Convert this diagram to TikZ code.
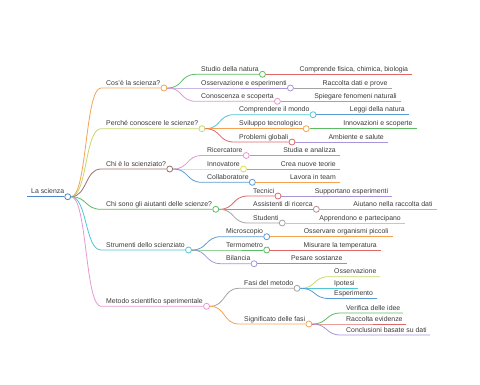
\documentclass[tikz,border=0pt]{standalone}
\usepackage{fontspec}
\setmainfont{Liberation Sans}
\definecolor{cOrange}{HTML}{F4A352}
\definecolor{cOlive}{HTML}{C8D66A}
\definecolor{cBrown}{HTML}{9C6F6F}
\definecolor{cGreen}{HTML}{5DBB63}
\definecolor{cCyan}{HTML}{4FC6D8}
\definecolor{cPink}{HTML}{E597D2}
\definecolor{cPurple}{HTML}{A994D9}
\definecolor{cRed}{HTML}{E06666}
\definecolor{cBlue}{HTML}{5B9BD5}
\definecolor{cGray}{HTML}{A4A4A4}
\definecolor{cYellow}{HTML}{DCDC5A}
\definecolor{cMauve}{HTML}{B88A8A}
\definecolor{cRoot}{HTML}{4A86C8}
\definecolor{txtGray}{HTML}{3A3A3A}
\tikzset{
  lbl/.style={font=\fontsize{6.9}{8}\selectfont, text=txtGray, inner sep=0pt},
  dot/.style={circle, draw=#1, fill=white, line width=0.8pt, inner sep=0pt, minimum size=6pt},
  link/.style={line width=0.8pt},
}
\begin{document}
\begin{tikzpicture}[x=1pt, y=-1pt]
    \useasboundingbox (0,0) rectangle (480,384);

    % radice
    \coordinate (rootS) at (27,196.7);
    \node[lbl, anchor=base west] (rootT) at (31,193.9) {La scienza};
    \node[dot=cRoot] (root) at (67.7,196.7) {};
    \draw[link, cRoot] (rootS) -- (root);

    % rami e sottorami: padre/nome/y/x testo/colore/testo
    \foreach \up/\nm/\y/\xt/\col/\txt in {
        root/cosa/88/106/cOrange/{Cos'è la scienza?},
        root/perche/128.7/106/cOlive/{Perché conoscere le scienze?},
        root/chie/169/106/cBrown/{Chi è lo scienziato?},
        root/aiut/209.3/106/cGreen/{Chi sono gli aiutanti delle scienze?},
        root/strum/250/106/cCyan/{Strumenti dello scienziato},
        root/metodo/306.3/106/cPink/{Metodo scientifico sperimentale},
        cosa/studio/74.3/201/cGreen/{Studio della natura},
        cosa/osserv/88/201/cPurple/{Osservazione e esperimenti},
        cosa/conosc/101.3/201/cPink/{Conoscenza e scoperta},
        perche/compr/114.7/239/cCyan/{Comprendere il mondo},
        perche/svil/128.7/239/cOrange/{Sviluppo tecnologico},
        perche/probl/142/239/cRed/{Problemi globali},
        chie/ricerc/155.5/207/cPink/{Ricercatore},
        chie/innov/169/207/cYellow/{Innovatore},
        chie/collab/182.3/207/cBlue/{Collaboratore},
        aiut/tecn/196/253/cRed/{Tecnici},
        aiut/assist/209.3/253/cMauve/{Assistenti di ricerca},
        aiut/stud/223/253/cGray/{Studenti},
        strum/micro/236.7/226/cBlue/{Microscopio},
        strum/termo/250/226/cGreen/{Termometro},
        strum/bilan/263.7/226/cPurple/{Bilancia},
        metodo/fasi/288.3/244/cGray/{Fasi del metodo},
        metodo/signif/324/244/cOrange/{Significato delle fasi}}{
        \coordinate (\nm-s) at (\xt-5,\y);
        \node[lbl, anchor=base west] (\nm-t) at (\xt,\y-2.8) {\txt};
        \node[dot=\col, xshift=3.5pt] (\nm) at (\nm-t.east |- \nm-s) {};
        \draw[link, \col] (\up.east) .. controls +(16,0) and +(-16,0) .. (\nm-s) -- (\nm);
    }

    % foglie allineate a destra
    \foreach \up/\nm/\y/\xe/\col/\txt in {
        studio/f1/74.3/412.3/cRed/{Comprende fisica, chimica, biologia},
        osserv/f2/88/391.7/cGray/{Raccolta dati e prove},
        conosc/f3/101.3/401/cGray/{Spiegare fenomeni naturali},
        compr/f4/114.7/409/cBlue/{Leggi della natura},
        svil/f5/128.7/416.7/cGreen/{Innovazioni e scoperte},
        probl/f6/142/388/cPurple/{Ambiente e salute},
        ricerc/f7/155.5/340/cGray/{Studia e analizza},
        innov/f8/169/340/cCyan/{Crea nuove teorie},
        collab/f9/182.3/340/cOrange/{Lavora in team},
        tecn/f10/196/392.3/cPurple/{Supportano esperimenti},
        assist/f11/209.3/436.7/cPink/{Aiutano nella raccolta dati},
        stud/f12/223/405/cOlive/{Apprendono e partecipano},
        micro/f13/236.7/392.7/cOrange/{Osservare organismi piccoli},
        termo/f14/250/381/cRed/{Misurare la temperatura},
        bilan/f15/263.7/346.7/cRed!70!cPink/{Pesare sostanze}}{
        \coordinate (\nm) at (\xe,\y);
        \node[lbl, anchor=base east] (\nm-t) at (\xe-4,\y-2.8) {\txt};
        \draw[link, \col] (\up) -- (\nm);
    }

    % foglie del metodo
    \foreach \up/\nm/\y/\xt/\xe/\col/\txt in {
        fasi/m1/276.7/334/380/cOlive/{Osservazione},
        fasi/m2/288.3/334/358/cCyan/{Ipotesi},
        fasi/m3/298.5/334/377/cBlue/{Esperimento},
        signif/m4/313/346/403/cGreen/{Verifica delle idee},
        signif/m5/324/346/406/cRed/{Raccolta evidenze},
        signif/m6/335/346/430/cPurple/{Conclusioni basate su dati}}{
        \coordinate (\nm-s) at (\xt-5,\y);
        \coordinate (\nm) at (\xe,\y);
        \node[lbl, anchor=base west] (\nm-t) at (\xt,\y-2.8) {\txt};
        \draw[link, \col] (\up.east) .. controls +(16,0) and +(-16,0) .. (\nm-s) -- (\nm);
    }
\end{tikzpicture}
\end{document}
